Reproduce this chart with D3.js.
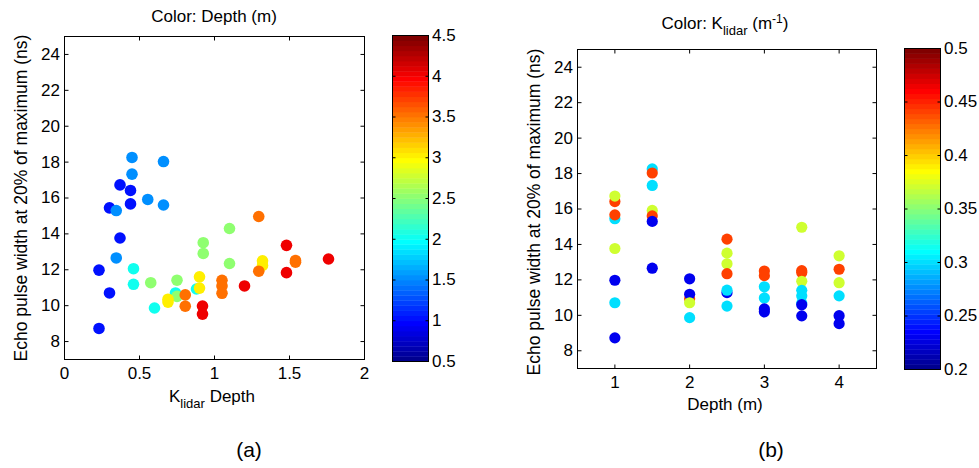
<!DOCTYPE html>
<html>
<head>
<meta charset="utf-8">
<script src="https://cdn.jsdelivr.net/npm/d3@7"></script>
<style>
  body { margin: 0; background: #fff; }
  svg { display: block; }
  text { font-family: "Liberation Sans", Arial, Helvetica, sans-serif; fill: #000; }
</style>
</head>
<body>
<svg id="fig" width="979" height="468"></svg>
<script>
// Measurements: water depth (m), lidar attenuation K (1/m), echo pulse width at 20% of max (ns)
const depth = [
  1, 1, 1, 1, 1, 1, 1, 1,
  1.5, 1.5, 1.5, 1.5, 1.5, 1.5, 1.5,
  2, 2, 2, 2, 2,
  2.5, 2.5, 2.5, 2.5, 2.5, 2.5, 2.5,
  3, 3, 3, 3, 3, 3,
  3.5, 3.5, 3.5, 3.5, 3.5, 3.5, 3.5, 3.5, 3.5,
  4, 4, 4, 4, 4, 4
];
const kLidar = [
  0.44, 0.37, 0.30, 0.44, 0.37, 0.23, 0.30, 0.23,
  0.30, 0.44, 0.30, 0.37, 0.44, 0.23, 0.23,
  0.44, 0.23, 0.23, 0.37, 0.30,
  0.44, 0.37, 0.37, 0.44, 0.23, 0.30, 0.30,
  0.44, 0.44, 0.30, 0.30, 0.23, 0.23,
  0.37, 0.44, 0.44, 0.37, 0.30, 0.30, 0.30, 0.23, 0.23,
  0.37, 0.44, 0.37, 0.30, 0.23, 0.23
];
const pulseWidth = [
  16.42, 16.73, 15.45, 15.67, 13.77, 11.98, 10.71, 8.73,
  18.26, 18.03, 17.33, 15.92, 15.61, 15.30, 12.66,
  10.93, 12.06, 11.19, 10.71, 9.87,
  14.30, 13.51, 12.91, 12.35, 11.28, 11.42, 10.52,
  12.50, 12.24, 11.61, 10.98, 10.36, 10.20,
  14.97, 12.52, 12.42, 11.92, 11.41, 11.10, 10.69, 10.60, 9.97,
  13.36, 12.60, 11.84, 11.10, 9.98, 9.53
];

// Tick values
const widthTicks = [8, 10, 12, 14, 16, 18, 20, 22, 24];
const productTicks = [0, 0.5, 1, 1.5, 2];
const depthTicks = [1, 2, 3, 4];
const depthColorTicks = [0.5, 1, 1.5, 2, 2.5, 3, 3.5, 4, 4.5];
const kColorTicks = [0.2, 0.25, 0.3, 0.35, 0.4, 0.45, 0.5];

const FONT = 17;
const svg = d3.select("#fig");

// 64-level jet colormap
function jet(m) {
  const n = Math.ceil(m / 4);
  const u = [];
  for (let i = 1; i <= n; i++) u.push(i / n);
  for (let i = 0; i < n - 1; i++) u.push(1);
  for (let i = n; i >= 1; i--) u.push(i / n);
  const g0 = Math.ceil(n / 2) - (m % 4 === 1 ? 1 : 0);
  const J = Array.from({ length: m }, () => [0, 0, 0]);
  u.forEach((v, k) => {
    const g = g0 + k + 1, r = g + n, b = g - n;
    if (r >= 1 && r <= m) J[r - 1][0] = v;
    if (g >= 1 && g <= m) J[g - 1][1] = v;
    if (b >= 1 && b <= m) J[b - 1][2] = v;
  });
  return J.map(c => d3.rgb(c[0] * 255, c[1] * 255, c[2] * 255).formatHex());
}
const JET = jet(64);
function colorOf(v, lo, hi) {
  let i = Math.floor((v - lo) / (hi - lo) * JET.length);
  i = Math.max(0, Math.min(JET.length - 1, i));
  return JET[i];
}

const fmt = d3.format("~g");

function styleAxis(g) {
  g.attr("font-size", FONT).attr("font-family", null);
  g.select(".domain").remove();
  g.selectAll(".tick line").attr("stroke", "#000");
}

// Boxed axes with inward ticks on all four sides
function frame(x, y, xTicks, yTicks) {
  const [x0, x1] = x.range(), [y0, y1] = y.range();
  const g = svg.append("g");
  g.append("g").attr("transform", `translate(0,${y0})`)
    .call(d3.axisBottom(x).tickValues(xTicks).tickSize(-4).tickSizeOuter(0).tickPadding(7).tickFormat(fmt).offset(0))
    .call(styleAxis);
  g.append("g").attr("transform", `translate(0,${y1})`)
    .call(d3.axisTop(x).tickValues(xTicks).tickSize(-4).tickSizeOuter(0).tickFormat("").offset(0))
    .call(styleAxis);
  g.append("g").attr("transform", `translate(${x0},0)`)
    .call(d3.axisLeft(y).tickValues(yTicks).tickSize(-4).tickSizeOuter(0).tickPadding(4.5).tickFormat(fmt).offset(0))
    .call(styleAxis);
  g.append("g").attr("transform", `translate(${x1},0)`)
    .call(d3.axisRight(y).tickValues(yTicks).tickSize(-4).tickSizeOuter(0).tickFormat("").offset(0))
    .call(styleAxis);
  g.append("rect").attr("x", x0).attr("y", y1).attr("width", x1 - x0).attr("height", y0 - y1)
    .attr("fill", "none").attr("stroke", "#000").attr("stroke-width", 1);
}

function colorbar(x0, w, c, ticks) {
  const [lo, hi] = c.domain();
  const [yb, yt] = c.range();
  const g = svg.append("g");
  const n = JET.length;
  g.selectAll("rect.band").data(JET).join("rect")
    .attr("class", "band")
    .attr("x", x0)
    .attr("width", w)
    .attr("y", (d, i) => c(lo + (i + 1) * (hi - lo) / n))
    .attr("height", (d, i) => c(lo + i * (hi - lo) / n) - c(lo + (i + 1) * (hi - lo) / n) + 0.4)
    .attr("fill", d => d);
  g.append("g").attr("transform", `translate(${x0},0)`)
    .call(d3.axisLeft(c).tickValues(ticks).tickSize(-3).tickSizeOuter(0).tickFormat("").offset(0))
    .call(styleAxis);
  g.append("g").attr("transform", `translate(${x0 + w},0)`)
    .call(d3.axisRight(c).tickValues(ticks).tickSize(-3).tickSizeOuter(0).tickPadding(3.5).tickFormat(fmt).offset(0))
    .call(styleAxis);
  g.append("rect").attr("x", x0).attr("y", yt).attr("width", w).attr("height", yb - yt)
    .attr("fill", "none").attr("stroke", "#000").attr("stroke-width", 1);
}

const points = depth.map((d, i) => ({ depth: d, k: kLidar[i], w: pulseWidth[i] }));

// ---- Panel (a): pulse width vs K·depth, coloured by depth ----
const xA = d3.scaleLinear([0, 2], [64.5, 364.5]);
const yA = d3.scaleLinear([7, 25], [359.5, 36.5]);
const cA = d3.scaleLinear([0.5, 4.5], [361.5, 35.5]);

svg.append("g").selectAll("circle").data(points).join("circle")
  .attr("cx", p => xA(p.k * p.depth))
  .attr("cy", p => yA(p.w))
  .attr("r", 5.8)
  .attr("fill", p => colorOf(p.depth, 0.5, 4.5));
frame(xA, yA, productTicks, widthTicks);
colorbar(392.5, 36, cA, depthColorTicks);

svg.append("text").attr("x", 214).attr("y", 22).attr("text-anchor", "middle")
  .attr("font-size", FONT).text("Color: Depth (m)");

const xlabA = svg.append("text").attr("x", 212).attr("y", 402).attr("text-anchor", "middle").attr("font-size", FONT);
xlabA.append("tspan").text("K");
xlabA.append("tspan").attr("font-size", 13).attr("dy", 6).text("lidar");
xlabA.append("tspan").attr("dy", -6).text(" Depth");

svg.append("text").attr("transform", "translate(26.5,198) rotate(-90)").attr("text-anchor", "middle")
  .attr("font-size", 17.5).text("Echo pulse width at 20% of maximum (ns)");

svg.append("text").attr("x", 249).attr("y", 457).attr("text-anchor", "middle")
  .attr("font-size", 21).text("(a)");

// ---- Panel (b): pulse width vs depth, coloured by K ----
const xB = d3.scaleLinear([0.5, 4.5], [577.5, 876.5]);
const yB = d3.scaleLinear([7, 25], [368.5, 49.5]);
const cB = d3.scaleLinear([0.2, 0.5], [369.5, 48.5]);

svg.append("g").selectAll("circle").data(points).join("circle")
  .attr("cx", p => xB(p.depth))
  .attr("cy", p => yB(p.w))
  .attr("r", 5.6)
  .attr("fill", p => colorOf(p.k, 0.2, 0.5));
frame(xB, yB, depthTicks, widthTicks);
colorbar(904.5, 36, cB, kColorTicks);

const titB = svg.append("text").attr("x", 725).attr("y", 29).attr("text-anchor", "middle").attr("font-size", FONT);
titB.append("tspan").text("Color: K");
titB.append("tspan").attr("font-size", 13).attr("dy", 6).text("lidar");
titB.append("tspan").attr("dy", -6).text(" (m");
titB.append("tspan").attr("font-size", 12).attr("dy", -6).text("-1");
titB.append("tspan").attr("dy", 6).text(")");

svg.append("text").attr("x", 725).attr("y", 410).attr("text-anchor", "middle")
  .attr("font-size", FONT).text("Depth (m)");

svg.append("text").attr("transform", "translate(539.5,212) rotate(-90)").attr("text-anchor", "middle")
  .attr("font-size", 17.5).text("Echo pulse width at 20% of maximum (ns)");

svg.append("text").attr("x", 771).attr("y", 457).attr("text-anchor", "middle")
  .attr("font-size", 21).text("(b)");
</script>
</body>
</html>
